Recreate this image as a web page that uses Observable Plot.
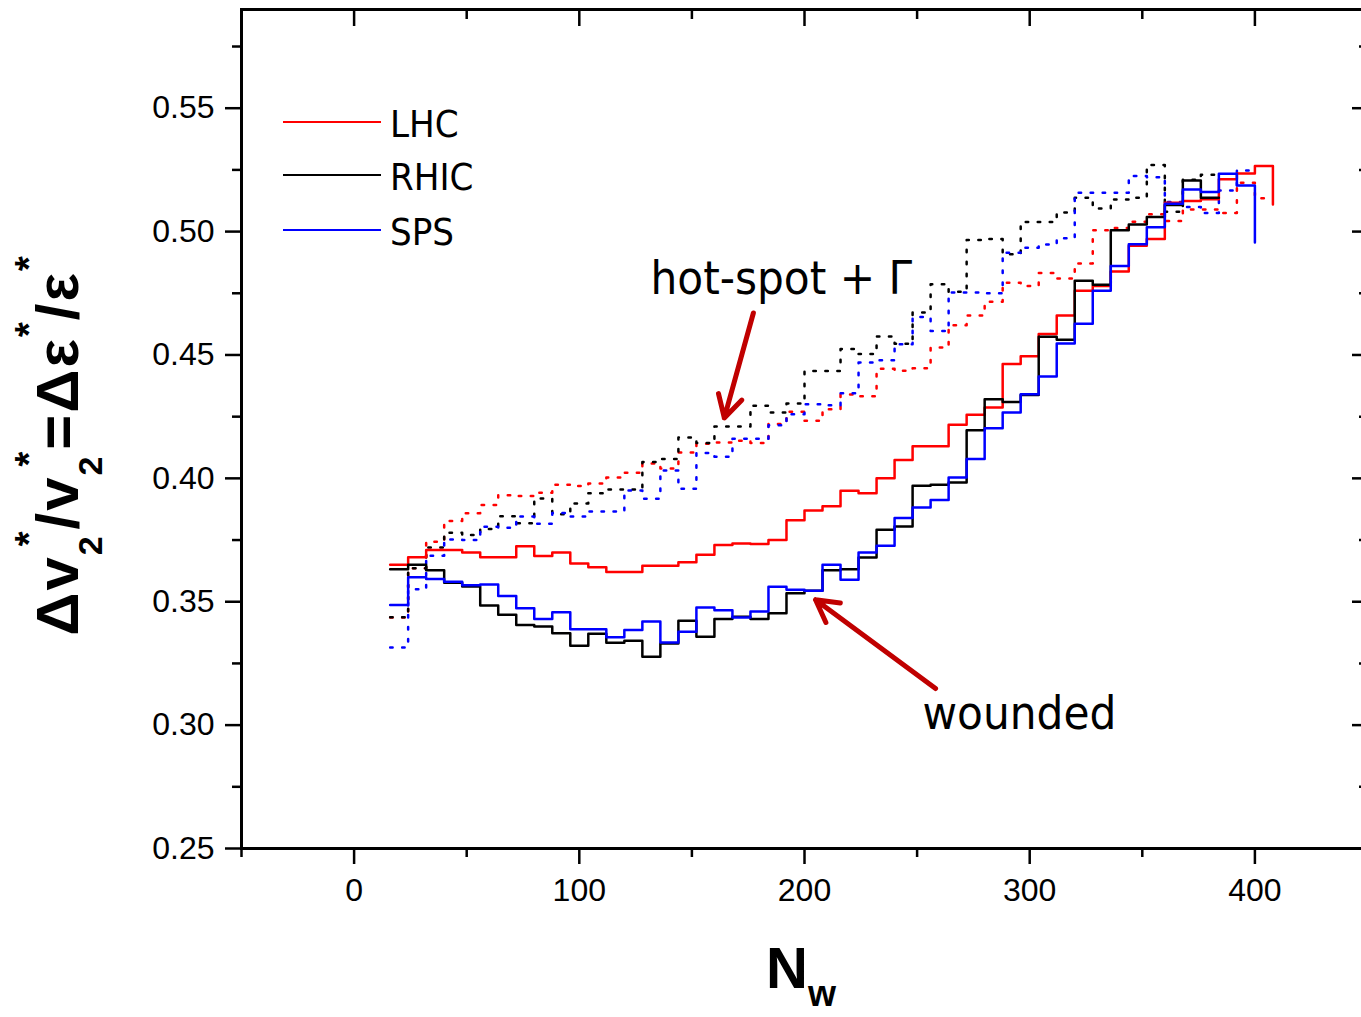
<!DOCTYPE html>
<html>
<head>
<meta charset="utf-8">
<script src="https://cdn.jsdelivr.net/npm/d3@7"></script>
<script src="https://cdn.jsdelivr.net/npm/@observablehq/plot@0.6"></script>
<style>
html, body { margin: 0; padding: 0; overflow: hidden; background: #fff; }
#chart svg { display: block; max-width: none !important; }
</style>
</head>
<body>
<div id="chart"></div>
<script>
// ---- Data ----
// Left edges of the N_w bins (width 8); the last entry closes the final bin.
const nwEdges = [16,24,32,40,48,56,64,72,80,88,96,104,112,120,128,136,144,152,160,168,
  176,184,192,200,208,216,224,232,240,248,256,264,272,280,288,296,304,312,320,328,
  336,344,352,360,368,376,384,392,400,408];

// wounded-nucleon model (solid)
const lhcWounded = [0.365,0.368,0.371,0.371,0.370,0.368,0.368,0.3725,0.3685,0.370,
  0.3655,0.364,0.362,0.362,0.3646,0.3646,0.366,0.369,0.373,0.3736,
  0.3734,0.375,0.383,0.387,0.3887,0.395,0.394,0.400,0.4074,0.413,
  0.413,0.4217,0.4258,0.4287,0.4463,0.4495,0.4585,0.466,0.476,0.478,
  0.4838,0.4943,0.497,0.5117,0.5124,0.5131,0.5212,0.5235,0.5266,0.511];
const rhicWounded = [0.3632,0.3650,0.3628,0.3577,0.3562,0.3485,0.3447,0.3406,0.3400,0.3372,
  0.3322,0.3370,0.3334,0.3342,0.3277,0.3331,0.3423,0.3358,0.3430,0.3439,
  0.3430,0.3453,0.3534,0.3545,0.3628,0.3632,0.3679,0.3792,0.3805,0.3970,
  0.3974,0.3983,0.4195,0.4321,0.4309,0.4338,0.4574,0.4562,0.4801,0.4785,
  0.5005,0.5029,0.5059,0.5108,0.5207,0.5137,0.5137];
const spsWounded = [0.3487,0.3599,0.3592,0.3581,0.3567,0.3570,0.3523,0.3474,0.3430,0.3457,
  0.3388,0.3388,0.3356,0.3385,0.3420,0.3335,0.3378,0.3477,0.3466,0.3436,
  0.3460,0.3561,0.3549,0.3545,0.3650,0.3589,0.3700,0.3727,0.3839,0.3882,
  0.3912,0.4003,0.4078,0.4203,0.4267,0.4341,0.4413,0.4546,0.4627,0.4760,
  0.4861,0.4949,0.5018,0.5113,0.5171,0.5160,0.5234,0.5187,0.4956];

// hot-spot + Gamma model (dotted)
const lhcHotspot = [0.3436,0.3636,0.3743,0.3827,0.3859,0.3892,0.3932,0.3928,0.3942,0.3974,
  0.3969,0.3979,0.4003,0.4023,0.4060,0.4040,0.4105,0.4140,0.4145,0.4152,
  0.4143,0.4220,0.4270,0.4233,0.4280,0.4340,0.4333,0.4444,0.4436,0.4446,
  0.4530,0.4620,0.4660,0.4716,0.4793,0.4780,0.4832,0.4810,0.4871,0.5005,
  0.5015,0.5040,0.5070,0.5043,0.5090,0.5090,0.5075,0.5198,0.5135,0.5135];
const rhicHotspot = [0.3437,0.3636,0.3720,0.3780,0.3770,0.3795,0.3846,0.3818,0.3918,0.3855,
  0.3898,0.3940,0.3955,0.3955,0.4066,0.4078,0.4166,0.4143,0.4210,0.4210,
  0.4294,0.4267,0.4303,0.4435,0.4435,0.4524,0.4504,0.4575,0.4545,0.4672,
  0.4787,0.4756,0.4966,0.4970,0.4908,0.5039,0.5039,0.5077,0.5137,0.5094,
  0.5130,0.5137,0.5270,0.5080,0.5210,0.5230,0.5230];
const spsHotspot = [0.3315,0.3551,0.3686,0.3752,0.3750,0.3804,0.3800,0.3845,0.3816,0.3860,
  0.3845,0.3866,0.3866,0.3951,0.3917,0.4032,0.3958,0.4103,0.4088,0.4160,
  0.4160,0.4215,0.4260,0.4300,0.4296,0.4345,0.4469,0.4479,0.4543,0.4654,
  0.4597,0.4753,0.4753,0.4750,0.4914,0.4935,0.4948,0.4973,0.5157,0.5157,
  0.5157,0.5225,0.5220,0.5120,0.5100,0.5075,0.5167,0.5248,0.5248];

const seriesNames = ["LHC", "RHIC", "SPS"];
const seriesColors = ["#ff0000", "#000000", "#0000ff"];

const yTicks = [0.25, 0.30, 0.35, 0.40, 0.45, 0.50, 0.55];
const yMinorTicks = [0.275, 0.325, 0.375, 0.425, 0.475, 0.525, 0.575];
const xTicks = [0, 100, 200, 300, 400];
const xMinorTicks = [-50, 50, 150, 250, 350, 450];

const annotationLabels = ["hot-spot + \u0393", "wounded"];
const annotationAnchors = [{x: 131.6, y: 0.4747}, {x: 252.4, y: 0.2986}];
const annotationArrows = [
  {x1: 177.3, y1: 0.467, x2: 164.4, y2: 0.4245},
  {x1: 258.2, y1: 0.3148, x2: 204.9, y2: 0.3508}
];

// ---- Build tables ----
const toRows = (values) => values.map((v, i) => ({nw: nwEdges[i], v}));
const wounded = [lhcWounded, rhicWounded, spsWounded].map(toRows);
const hotspot = [lhcHotspot, rhicHotspot, spsHotspot].map(toRows);
const annotations = annotationLabels.map((label, i) => ({label, ...annotationAnchors[i]}));

const noText = () => "";
const tickStroke = 2.5;

const marks = [];
hotspot.forEach((rows, i) => marks.push(Plot.line(rows, {
  x: "nw", y: "v", curve: "step-after", stroke: seriesColors[i],
  strokeWidth: 2.5, strokeDasharray: "2.5,9.5"
})));
wounded.forEach((rows, i) => marks.push(Plot.line(rows, {
  x: "nw", y: "v", curve: "step-after", stroke: seriesColors[i], strokeWidth: 2.5
})));

marks.push(
  Plot.arrow(annotationArrows, {x1: "x1", y1: "y1", x2: "x2", y2: "y2",
    stroke: "#c00000", strokeWidth: 5, headLength: 7.5, headAngle: 58}),
  Plot.text(annotations, {x: "x", y: "y", text: "label", textAnchor: "start", lineAnchor: "bottom",
    fontSize: 47, fontFamily: "'DejaVu Sans Condensed', 'DejaVu Sans', sans-serif", fill: "#000"}),
  Plot.frame({stroke: "#000", strokeWidth: 3}),
  Plot.axisY(yTicks, {anchor: "left", tickSize: 16, tickPadding: 11, strokeWidth: tickStroke,
    tickFormat: d3.format(".2f"), fontSize: 32}),
  Plot.axisY(yMinorTicks, {anchor: "left", tickSize: 9, strokeWidth: tickStroke, tickFormat: noText}),
  Plot.axisY(yTicks, {anchor: "right", tickSize: -16, strokeWidth: tickStroke, tickFormat: noText}),
  Plot.axisY(yMinorTicks, {anchor: "right", tickSize: -9, strokeWidth: tickStroke, tickFormat: noText}),
  Plot.axisX(xTicks, {anchor: "bottom", tickSize: 16, tickPadding: 14, strokeWidth: tickStroke,
    tickFormat: d3.format("d"), fontSize: 32}),
  Plot.axisX(xMinorTicks, {anchor: "bottom", tickSize: 9, strokeWidth: tickStroke, tickFormat: noText}),
  Plot.axisX(xTicks, {anchor: "top", tickSize: -16, strokeWidth: tickStroke, tickFormat: noText}),
  Plot.axisX(xMinorTicks, {anchor: "top", tickSize: -9, strokeWidth: tickStroke, tickFormat: noText})
);

const chart = Plot.plot({
  width: 1367,
  height: 1017,
  marginLeft: 241,
  marginRight: 0,
  marginTop: 9,
  marginBottom: 169,
  x: {domain: [-50, 450], label: null},
  y: {domain: [0.25, 0.59], label: null},
  style: {fontFamily: "'Liberation Sans', Arial, sans-serif", fontSize: "32px", color: "#000", background: "#fff", overflow: "visible", maxWidth: "none"},
  marks
});

document.getElementById("chart").appendChild(chart);

// ---- Axis titles and legend ----
const svg = d3.select(chart);
const titleFont = "'Liberation Sans', Arial, sans-serif";

const yTitle = svg.append("text")
  .attr("transform", "translate(78,445) rotate(-90)")
  .attr("text-anchor", "middle")
  .attr("font-family", titleFont)
  .attr("font-weight", "bold")
  .attr("font-size", 60)
  .attr("letter-spacing", 2)
  .attr("fill", "#000");
const parts = [
  {t: "\u0394v", fs: 60, dy: 0},
  {t: "2", fs: 34, dy: 24},
  {t: "*", fs: 38, dy: -60, dx: -12},
  {t: "/v", fs: 60, dy: 36},
  {t: "2", fs: 34, dy: 24},
  {t: "*", fs: 38, dy: -60, dx: -12},
  {t: "=\u0394\u03b5", fs: 60, dy: 36},
  {t: "*", fs: 38, dy: -36},
  {t: "/\u03b5", fs: 60, dy: 36},
  {t: "*", fs: 38, dy: -36}
];
parts.forEach(p => {
  const ts = yTitle.append("tspan").attr("font-size", p.fs).attr("dy", p.dy).text(p.t);
  if (p.dx) ts.attr("dx", p.dx);
});

const xTitle = svg.append("text")
  .attr("x", 766).attr("y", 988)
  .attr("text-anchor", "start")
  .attr("font-family", titleFont)
  .attr("font-weight", "bold")
  .attr("font-size", 58)
  .attr("fill", "#000");
xTitle.append("tspan").text("N");
xTitle.append("tspan").attr("font-size", 36).attr("dy", 18).text("w");

const legend = svg.append("g");
const legendY = [122, 175, 230];
seriesNames.forEach((name, i) => {
  legend.append("line")
    .attr("x1", 283).attr("x2", 381)
    .attr("y1", legendY[i]).attr("y2", legendY[i])
    .attr("stroke", seriesColors[i]).attr("stroke-width", 2);
  legend.append("text")
    .attr("x", 390).attr("y", legendY[i] + 15)
    .attr("text-anchor", "start")
    .attr("font-family", "'DejaVu Sans Condensed', 'DejaVu Sans', sans-serif")
    .attr("font-size", 38)
    .attr("fill", "#000")
    .text(name);
});
</script>
</body>
</html>
